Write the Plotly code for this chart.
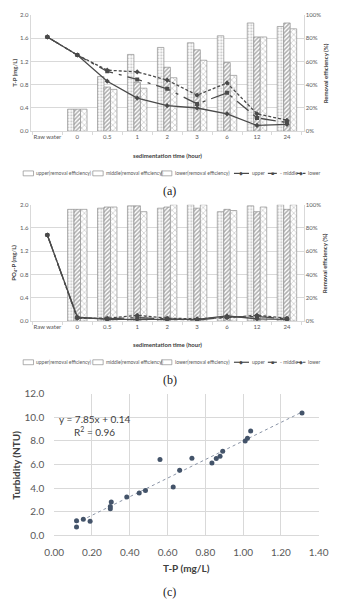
import plotly.graph_objects as go

W, H = 339, 610
def X(px): return px / W
def Y(py): return 1 - py / H

# ---------------- data ----------------
categories = ["Raw water", "0", "0.5", "1", "2", "3", "6", "12", "24"]

# (a) T-P
a_upper_eff = [None, 19, 47, 66, 72, 76, 82, 93, 90]
a_middle_eff = [None, 19, 38, 42, 55, 70, 59, 81, 93]
a_lower_eff = [None, 19, 36, 37, 46, 61, 48, 81, 88]
a_upper = [1.62, 1.31, 0.86, 0.57, 0.44, 0.40, 0.30, 0.10, 0.12]
a_middle = [1.62, 1.31, 1.03, 0.89, 0.73, 0.47, 0.66, 0.23, 0.15]
a_lower = [1.62, 1.31, 1.05, 1.02, 0.88, 0.62, 0.83, 0.30, 0.19]

# (b) PO4-P
b_upper_eff = [None, 96, 97, 99, 97, 100, 94, 99, 100]
b_middle_eff = [None, 96, 98, 99, 98, 97, 96, 94, 96]
b_lower_eff = [None, 96, 98, 94, 100, 100, 95, 98, 100]
b_upper = [1.48, 0.07, 0.03, 0.03, 0.03, 0.03, 0.09, 0.04, 0.03]
b_middle = [1.48, 0.06, 0.04, 0.06, 0.04, 0.02, 0.07, 0.08, 0.04]
b_lower = [1.48, 0.05, 0.05, 0.10, 0.05, 0.04, 0.06, 0.10, 0.05]

# (c) T-P vs turbidity
tp = [1.312, 1.04, 1.023, 1.011, 0.892, 0.878, 0.858, 0.835, 0.729, 0.56, 0.664,
      0.63, 0.483, 0.45, 0.384, 0.302, 0.297, 0.297, 0.154, 0.118, 0.19, 0.118]
turb = [10.35, 8.83, 8.22, 8.0, 7.12, 6.7, 6.51, 6.13, 6.54, 6.43, 5.52,
        4.11, 3.81, 3.59, 3.25, 2.84, 2.45, 2.26, 1.38, 1.24, 1.21, 0.72]
slope, intercept = 7.85, 0.14

bar_names = ["upper(removal efficiency)", "middle(removal efficiency)", "lower(removal efficiency)"]
line_names = ["upper", "middle", "lower"]

FONT = "Lato, Liberation Sans, sans-serif"
TICK = "#595959"
GRID = "#d9d9d9"
LINEC = "#4a4a4a"

patterns = [
    dict(shape=".", fgcolor="#7a7a7a", bgcolor="white", size=3, solidity=0.3),
    dict(shape="/", fgcolor="#5e5e5e", bgcolor="white", size=3, solidity=0.5),
    dict(shape="x", fgcolor="#8a8a8a", bgcolor="white", size=4, solidity=0.3),
]
line_styles = [
    dict(dash="solid", symbol="diamond"),
    dict(dash="longdashdot", symbol="square"),
    dict(dash="3px,2px", symbol="diamond"),
]

fig = go.Figure()

def add_panel(xa, ybar, yline, effs, lines):
    for name, vals, pat in zip(bar_names, effs, patterns):
        fig.add_trace(go.Bar(x=categories, y=vals, name=name, xaxis=xa, yaxis=ybar,
                             marker=dict(color="white", pattern=pat,
                                         line=dict(color="#8f8f8f", width=0.7)),
                             showlegend=False))
    for name, vals, st in zip(line_names, lines, line_styles):
        fig.add_trace(go.Scatter(x=categories, y=vals, name=name, xaxis=xa, yaxis=yline,
                                 mode="lines+markers",
                                 line=dict(color=LINEC, width=1.3, dash=st["dash"]),
                                 marker=dict(symbol=st["symbol"], size=4, color=LINEC),
                                 showlegend=False))

add_panel("x", "y", "y2", [a_upper_eff, a_middle_eff, a_lower_eff], [a_upper, a_middle, a_lower])
add_panel("x2", "y3", "y4", [b_upper_eff, b_middle_eff, b_lower_eff], [b_upper, b_middle, b_lower])

fig.add_trace(go.Scatter(x=[min(tp), max(tp)],
                         y=[slope * min(tp) + intercept, slope * max(tp) + intercept],
                         mode="lines", line=dict(color="#8a94a6", width=1, dash="dot"),
                         xaxis="x3", yaxis="y5", showlegend=False))
fig.add_trace(go.Scatter(x=tp, y=turb, mode="markers", xaxis="x3", yaxis="y5",
                         marker=dict(color="#44546a", size=5), showlegend=False))

small = dict(family=FONT, size=6, color=TICK)
big = dict(family=FONT, size=10, color=TICK)

def cat_x(dom_y_anchor):
    return dict(type="category", domain=[X(22), X(312)], anchor=dom_y_anchor,
                showline=True, linecolor=GRID, ticks="outside", tickson="boundaries",
                ticklen=3, tickcolor=GRID, tickfont=small, showgrid=False, tickangle=0)

def bar_y(top, bot, anchor):
    return dict(domain=[Y(bot), Y(top)], anchor=anchor, side="right", range=[0, 100],
                dtick=20, ticksuffix="%", tickfont=small, showgrid=True, gridcolor=GRID,
                gridwidth=0.8, showline=True, linecolor=GRID, zeroline=False)

def line_y(over, anchor):
    return dict(overlaying=over, anchor=anchor, side="left", range=[0, 2], dtick=0.4,
                tickformat=".1f", tickfont=small, showgrid=False, showline=True,
                linecolor=GRID, zeroline=False)

fig.update_layout(
    width=W, height=H, margin=dict(l=0, r=0, t=0, b=0),
    paper_bgcolor="white", plot_bgcolor="white",
    barmode="group", bargap=0.35, bargroupgap=0,
    font=dict(family=FONT),
    xaxis=cat_x("y"),
    yaxis=bar_y(8, 127, "x"),
    yaxis2=line_y("y", "x"),
    xaxis2=cat_x("y3"),
    yaxis3=bar_y(202, 321, "x2"),
    yaxis4=line_y("y3", "x2"),
    xaxis3=dict(domain=[X(47), X(328)], anchor="y5", range=[0, 1.4], dtick=0.2,
                tickformat=".2f", tickfont=big, showgrid=True, gridcolor=GRID,
                showline=True, linecolor=GRID, zeroline=False,
                ticks="outside", ticklen=8, tickcolor="rgba(0,0,0,0)"),
    yaxis5=dict(domain=[Y(540), Y(395)], anchor="x3", range=[0, 12], dtick=2,
                tickformat=".1f", tickfont=big, showgrid=True, gridcolor=GRID,
                zeroline=False, ticks="outside", ticklen=7, tickcolor="rgba(0,0,0,0)"),
)

ann = []
shapes = []
def txt(x, y, t, size, bold=False, angle=0, family=FONT, color="#404040", xanchor="center"):
    ann.append(dict(x=X(x), y=Y(y), xref="paper", yref="paper", showarrow=False,
                    text=f"<b>{t}</b>" if bold else t, textangle=angle, xanchor=xanchor,
                    yanchor="middle", font=dict(family=family, size=size, color=color)))

# axis titles and captions for (a) and (b)
for top, bot, ylab, cap, axy in [(8, 127, "T-P (mg/L)", "(a)", 152), (202, 321, "PO<sub>4</sub>-P (mg/L)", "(b)", 345)]:
    mid = (top + bot) / 2
    txt(4, mid, ylab, 6, bold=True, angle=-90)
    txt(335, mid, "Removal efficiency (%)", 6, bold=True, angle=-90)
    txt(167, axy, "sedimentation time (hour)", 6, bold=True)
    txt(170, axy + 36, cap, 12, family="Liberation Serif, serif", color="#222")

# manual legends
for ly in [170, 363]:
    boxes = [(14, "upper(removal efficiency)"), (88, "middle(removal efficiency)"), (161, "lower(removal efficiency)")]
    for bx, lab in boxes:
        shapes.append(dict(type="rect", xref="paper", yref="paper", x0=X(bx), x1=X(bx + 11),
                           y0=Y(ly + 2.5), y1=Y(ly - 2.5), line=dict(color="#8c8c8c", width=0.7),
                           fillcolor="white"))
        txt(bx + 12, ly, lab, 5, color="#595959", xanchor="left")
    lines = [(238, 254, "upper", "solid", "◆"), (274, 284, "- middle", "dash", "■"), (305, 314, "lower", "dot", "◆")]
    for x0, x1, lab, dash, sym in lines:
        shapes.append(dict(type="line", xref="paper", yref="paper", x0=X(x0), x1=X(x1),
                           y0=Y(ly), y1=Y(ly), line=dict(color=LINEC, width=1.2, dash=dash)))
        txt((x0 + x1) / 2, ly, sym, 5, color=LINEC)
        txt(x1 + 1, ly, lab, 5, color="#595959", xanchor="left")

# (c) titles & equation
txt(6, 468, "Turbidity (NTU)", 10, bold=True, angle=-90)
txt(188, 573, "T-P (mg/L)", 10, bold=True)
txt(170, 598, "(c)", 12, family="Liberation Serif, serif", color="#222")
txt(90, 421, "y = 7.85x + 0.14", 10, color="#404040")
txt(90, 434, "R<sup>2</sup> = 0.96", 10, color="#404040")

fig.update_layout(annotations=ann, shapes=shapes)
fig.write_html("out.html")
